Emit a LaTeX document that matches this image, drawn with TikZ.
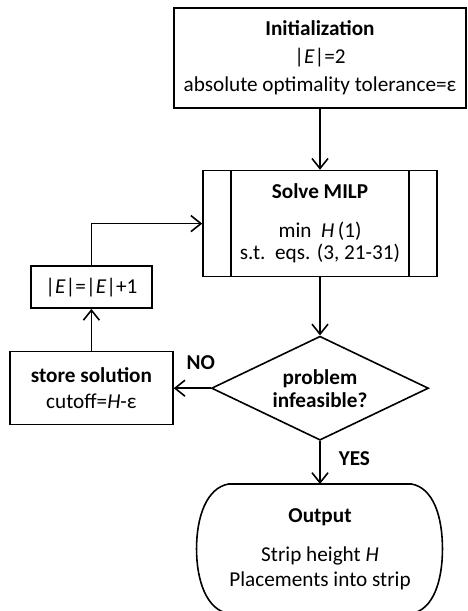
\documentclass[tikz,border=0pt]{standalone}
\usepackage{fontspec}
\setmainfont{Carlito}
\usetikzlibrary{shapes.geometric, arrows.meta, positioning, calc}

\begin{document}
\begin{tikzpicture}[line width=0.8pt,
    every node/.style={font=\fontsize{10.6}{14}\selectfont, align=center, inner sep=0pt},
    box/.style={rectangle, draw},
    decision/.style={diamond, draw, aspect=2.1, minimum width=108.5pt, minimum height=52pt},
    flow/.style={-{Straight Barb[length=5pt, width=8pt]}},
    lbl/.style={font=\fontsize{10.6}{14}\selectfont\bfseries}]
    \useasboundingbox (0,0) rectangle (233.5pt,305.5pt);
    \node[box, minimum width=146pt, minimum height=50pt] (init) at (160pt,276.5pt)
        {\textbf{Initialization}\\|\textit{E}|=2\\absolute optimality tolerance=ε};
    \node[box, minimum width=117pt, minimum height=53pt,
        font=\fontsize{10.6}{11}\selectfont] (solve) [below=30.5pt of init]
        {\textbf{Solve MILP}\\[8.5pt]min~~\textit{H}\,(1)\\s.t.~~eqs. (3, 21-31)};
    \node[decision, font=\fontsize{10.6}{11.5}\selectfont\bfseries] (dec) [below=29pt of solve]
        {problem\\infeasible?};
    \node[minimum width=80pt, minimum height=64pt,
        font=\fontsize{10.6}{12.5}\selectfont] (out) [below=21.5pt of dec]
        {\textbf{Output}\\[7pt]Strip height \textit{H}\\Placements into strip};
    \node[box, minimum width=81.5pt, minimum height=36.5pt,
        font=\fontsize{10.6}{13}\selectfont] (store) [left=18.5pt of dec]
        {\textbf{store solution}\\cutoff=\textit{H}-ε};
    \node[box, minimum width=60.5pt, minimum height=21pt] (ebox) [above=21pt of store]
        {|\textit{E}|=|\textit{E}|+1};

    % side bars of the MILP box
    \draw ($(solve.north west)+(14.5pt,0)$) -- ($(solve.south west)+(14.5pt,0)$);
    \draw ($(solve.north east)+(-14.5pt,0)$) -- ($(solve.south east)+(-14.5pt,0)$);

    % outline of the output box
    \draw (out.north west) -- (out.north east)
        .. controls +(11pt,-2pt) and +(0,16pt) .. ($(out.east)+(15.5pt,0)$)
        .. controls +(0,-16pt) and +(11pt,2pt) .. (out.south east)
        -- (out.south west)
        .. controls +(-11pt,2pt) and +(0,-16pt) .. ($(out.west)+(-16pt,0)$)
        .. controls +(0,16pt) and +(-11pt,-2pt) .. cycle;

    \draw[flow] (init.south -| solve.north) -- (solve.north);
    \draw[flow] (solve) -- (dec);
    \draw[flow] (dec) -- node[lbl, pos=0.42, right=9pt] {YES} (out);
    \draw[flow] (dec) -- node[lbl, pos=0.27, above=9pt] {NO} (store);
    \draw[flow] (store) -- (ebox);
    \draw[flow] (ebox.north) |- (solve.west);
\end{tikzpicture}
\end{document}
